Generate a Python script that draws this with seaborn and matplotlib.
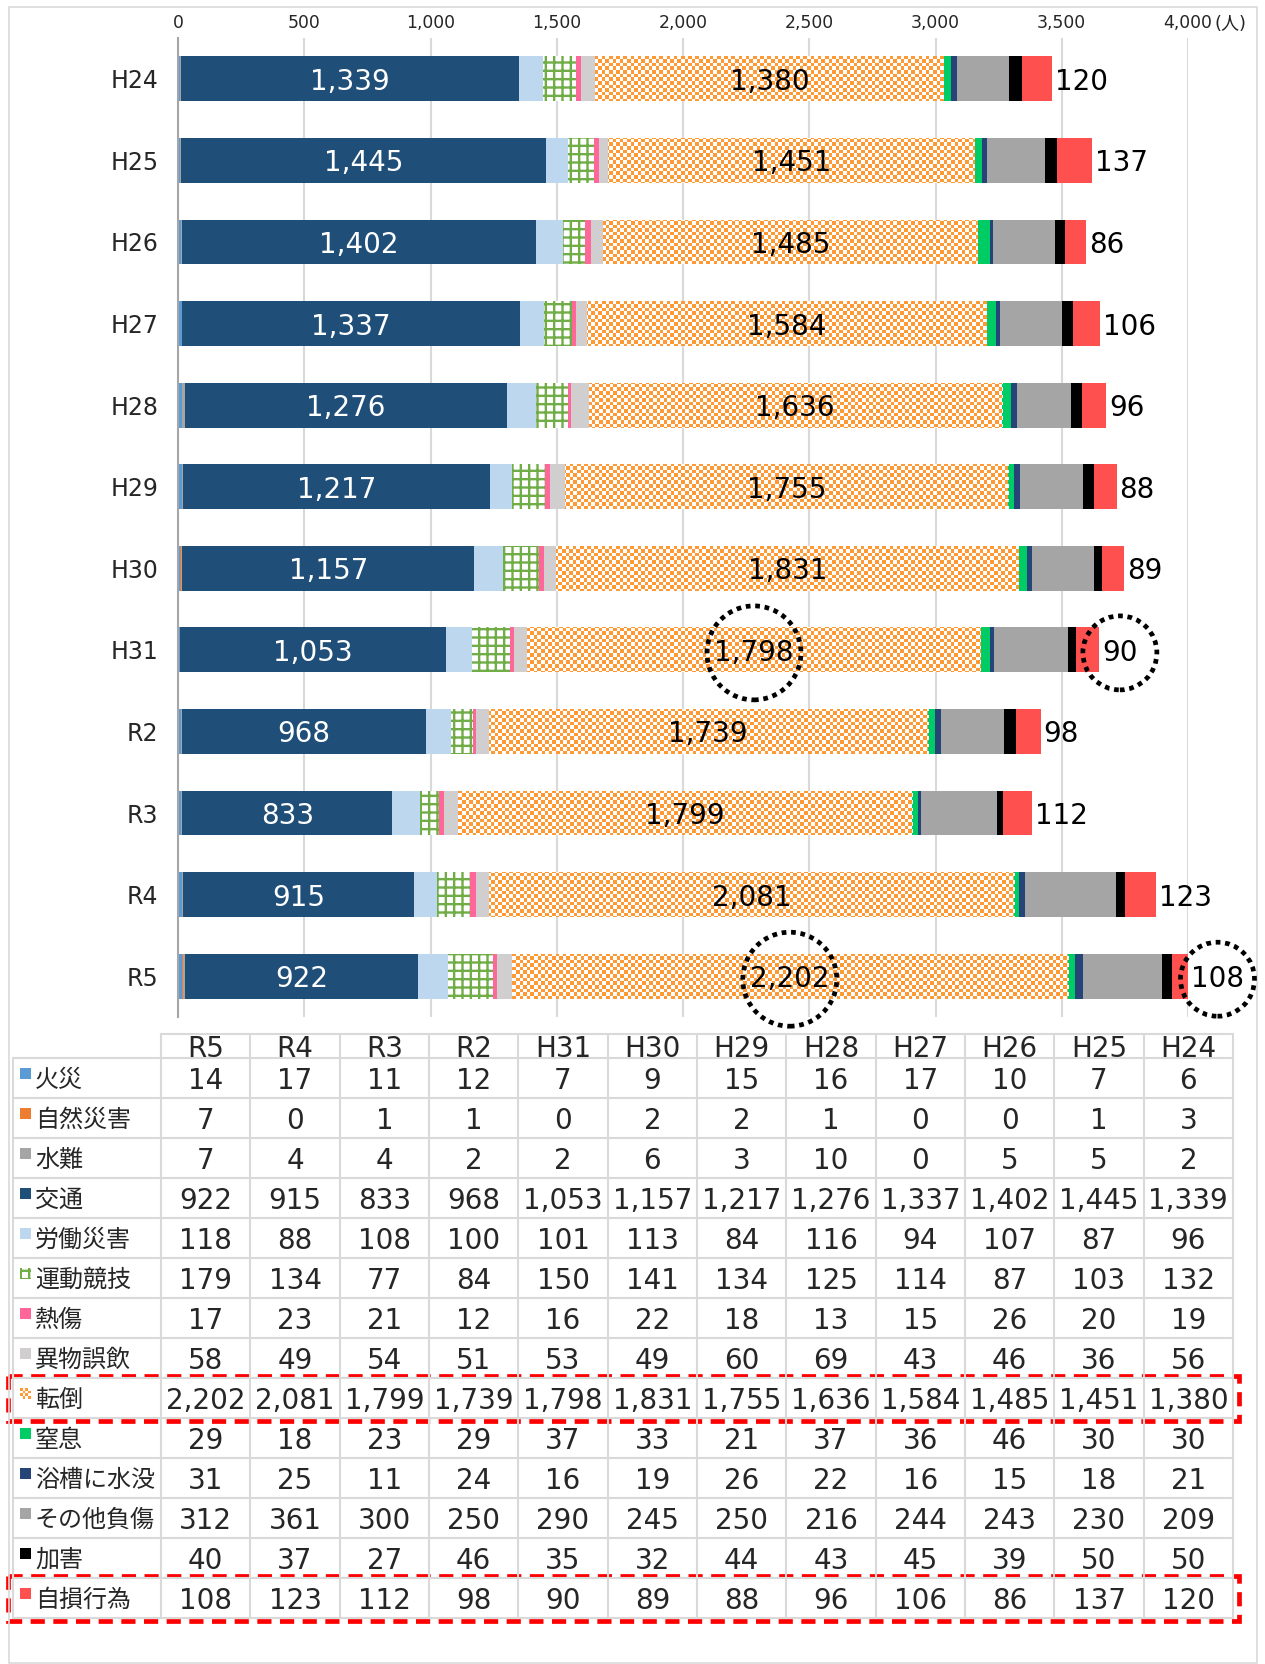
import numpy as np
import pandas as pd
import matplotlib
matplotlib.use('Agg')
import matplotlib.pyplot as plt
import seaborn as sns
from matplotlib.patches import Rectangle, Circle
from matplotlib.transforms import IdentityTransform
from matplotlib.ticker import FuncFormatter, MultipleLocator

# ---------------- data ----------------
years = ['H24', 'H25', 'H26', 'H27', 'H28', 'H29', 'H30', 'H31', 'R2', 'R3', 'R4', 'R5']
categories = ['火災', '自然災害', '水難', '交通', '労働災害', '運動競技', '熱傷',
              '異物誤飲', '転倒', '窒息', '浴槽に水没', 'その他負傷', '加害', '自損行為']

fire        = [6, 7, 10, 17, 16, 15, 9, 7, 12, 11, 17, 14]
nature      = [3, 1, 0, 0, 1, 2, 2, 0, 1, 1, 0, 7]
water       = [2, 5, 5, 0, 10, 3, 6, 2, 2, 4, 4, 7]
traffic     = [1339, 1445, 1402, 1337, 1276, 1217, 1157, 1053, 968, 833, 915, 922]
labor       = [96, 87, 107, 94, 116, 84, 113, 101, 100, 108, 88, 118]
sports      = [132, 103, 87, 114, 125, 134, 141, 150, 84, 77, 134, 179]
burn        = [19, 20, 26, 15, 13, 18, 22, 16, 12, 21, 23, 17]
swallow     = [56, 36, 46, 43, 69, 60, 49, 53, 51, 54, 49, 58]
fall        = [1380, 1451, 1485, 1584, 1636, 1755, 1831, 1798, 1739, 1799, 2081, 2202]
choke       = [30, 30, 46, 36, 37, 21, 33, 37, 29, 23, 18, 29]
bathtub     = [21, 18, 15, 16, 22, 26, 19, 16, 24, 11, 25, 31]
other_inj   = [209, 230, 243, 244, 216, 250, 245, 290, 250, 300, 361, 312]
assault     = [50, 50, 39, 45, 43, 44, 32, 35, 46, 27, 37, 40]
selfharm    = [120, 137, 86, 106, 96, 88, 89, 90, 98, 112, 123, 108]

series = dict(zip(categories, [fire, nature, water, traffic, labor, sports, burn,
                               swallow, fall, choke, bathtub, other_inj, assault, selfharm]))

colors = {'火災': '#5B9BD5', '自然災害': '#ED7D31', '水難': '#A5A5A5', '交通': '#1F4E79',
          '労働災害': '#BDD7EE', '運動競技': '#70AD47', '熱傷': '#FF6699', '異物誤飲': '#D0CECE',
          '転倒': '#FF9933', '窒息': '#00CC66', '浴槽に水没': '#264478', 'その他負傷': '#A5A5A5',
          '加害': '#000000', '自損行為': '#FF5050'}

# ---------------- style ----------------
sns.set_style('white')
plt.rcParams['font.family'] = ['DejaVu Sans', 'Noto Sans CJK JP']
plt.rcParams['hatch.linewidth'] = 1.7

W, H = 1265, 1664
fig = plt.figure(figsize=(W / 100, H / 100), dpi=100)

bg = fig.add_axes([0, 0, 1, 1])
bg.set_xlim(0, W)
bg.set_ylim(H, 0)
bg.axis('off')

AX_L, AX_R, AX_T, AX_B = 178, 1188, 38, 1017
ax = fig.add_axes([AX_L / W, 1 - AX_B / H, (AX_R - AX_L) / W, (AX_B - AX_T) / H])

XMAX = 4000
NUM_FS = 20
left = np.zeros(len(years))
lefts = {}
containers = {}
for cat in categories:
    vals = np.array(series[cat], dtype=float)
    df = pd.DataFrame({'year': years, 'count': vals})
    if cat == '運動競技':
        kw = dict(color='white', facecolor='white', edgecolor=colors[cat], hatch='++', linewidth=0)
    else:
        kw = dict(color=colors[cat], linewidth=0)
    sns.barplot(data=df, x='count', y='year', order=years, orient='h', errorbar=None,
                saturation=1, width=0.55, left=left.copy(), ax=ax, **kw)
    containers[cat] = ax.containers[-1]
    lefts[cat] = left.copy()
    left = left + vals

# checker texture for 転倒
CELL = 3.6
ny = int(round((AX_B - AX_T) / CELL))
nx = int(round((AX_R - AX_L) / CELL))
yy, xx = np.mgrid[0:ny, 0:nx]
rgba = np.zeros((ny, nx, 4))
rgba[(yy + xx) % 2 == 0] = [1, 1, 1, 1]
for patch in containers['転倒'].patches:
    im = ax.imshow(rgba, extent=(0, XMAX, len(years) - 0.5, -0.5), aspect='auto',
                   interpolation='nearest', zorder=1.5)
    im.set_clip_path(patch)

ax.set_xlim(0, XMAX)
ax.set_ylim(len(years) - 0.5, -0.5)
ax.set_xlabel('')
ax.set_ylabel('')
for s in ['top', 'right', 'bottom']:
    ax.spines[s].set_visible(False)
ax.spines['left'].set_color('#A6A6A6')
ax.spines['left'].set_linewidth(1.5)
ax.xaxis.set_major_locator(MultipleLocator(500))
ax.xaxis.set_major_formatter(FuncFormatter(lambda v, p: f'{int(v):,}'))
ax.xaxis.grid(True, color='#D9D9D9', linewidth=1.5)
ax.yaxis.grid(False)
ax.set_axisbelow(True)
ax.tick_params(axis='x', top=True, labeltop=True, bottom=False, labelbottom=False,
               length=0, pad=4.5, labelsize=12.4)
ax.tick_params(axis='y', length=0, pad=14, labelsize=17)

# value labels
fall_texts, self_texts = {}, {}
for i in range(len(years)):
    tv = series['交通'][i]
    ax.text(lefts['交通'][i] + tv / 2, i, f'{tv:,}', ha='center', va='center_baseline',
            color='white', fontsize=NUM_FS, zorder=5)
    fv = series['転倒'][i]
    fall_texts[i] = ax.text(lefts['転倒'][i] + fv / 2, i, f'{fv:,}', ha='center',
                            va='center_baseline', color='black', fontsize=NUM_FS, zorder=5)
    sv = series['自損行為'][i]
    end = min(lefts['自損行為'][i] + sv, XMAX)
    self_texts[i] = ax.annotate(f'{sv:,}', (end, i), xytext=(3, 0), textcoords='offset pixels',
                                ha='left', va='center_baseline', fontsize=NUM_FS, color='black',
                                annotation_clip=False, zorder=5)

bg.text(1214, 24, '(人)', ha='left', va='center', fontsize=13)

# ---------------- table ----------------
TL, TC0, TR = 13, 161, 1233
colw = (TR - TC0) / 12
HT, HB, RH = 1034, 1058, 40
nrows = len(categories)
gc, glw = '#D9D9D9', 1.5
tab_years = years[::-1]
bottom = HB + nrows * RH
bg.plot([TC0, TR], [HT, HT], color=gc, lw=glw)
for r in range(nrows + 1):
    y = HB + r * RH
    bg.plot([TL, TR], [y, y], color=gc, lw=glw)
bg.plot([TL, TL], [HB, bottom], color=gc, lw=glw)
for c in range(13):
    x = TC0 + c * colw
    bg.plot([x, x], [HT, bottom], color=gc, lw=glw)

for c, yr in enumerate(tab_years):
    bg.text(TC0 + (c + 0.5) * colw, HB - 1, yr, ha='center', va='baseline', fontsize=NUM_FS)

small = np.zeros((4, 4, 4))
for a in range(4):
    for b in range(4):
        small[a, b] = [1, 0.6, 0.2, 1] if (a + b) % 2 == 0 else [1, 1, 1, 1]

for r, cat in enumerate(categories):
    top = HB + r * RH
    if cat == '運動競技':
        bg.add_patch(Rectangle((20, top + 10), 11, 11, facecolor='white',
                               edgecolor=colors[cat], hatch='++', lw=0))
    elif cat == '転倒':
        bg.imshow(small, extent=(20, 31, top + 21, top + 10), aspect='auto',
                  interpolation='nearest')
    else:
        bg.add_patch(Rectangle((20, top + 10), 11, 11, color=colors[cat], lw=0))
    bg.text(35, top + 29, cat, ha='left', va='baseline', fontsize=17.3)
    vals = series[cat][::-1]
    for c, v in enumerate(vals):
        bg.text(TC0 + (c + 0.5) * colw, top + 31, f'{v:,}', ha='center', va='baseline',
                fontsize=NUM_FS)
bg.set_xlim(0, W)
bg.set_ylim(H, 0)

# red dashed highlight boxes
for cat in ['転倒', '自損行為']:
    r = categories.index(cat)
    top = HB + r * RH
    bg.add_patch(Rectangle((8, top - 2), 1239 - 8, RH + 5, fill=False, edgecolor='#FF0000',
                           lw=3.4, linestyle=(0, (3.0, 1.8))))

# outer frame
bg.add_patch(Rectangle((9, 7), 1257 - 9, H - 8, fill=False, edgecolor='#D9D9D9', lw=1.2))

# dotted circles around highlighted labels
fig.canvas.draw()
renderer = fig.canvas.get_renderer()
for i in [years.index('H31'), years.index('R5')]:
    for txt, rad in [(fall_texts[i], 47), (self_texts[i], 37)]:
        bb = txt.get_window_extent(renderer)
        cx, cy = (bb.x0 + bb.x1) / 2, (bb.y0 + bb.y1) / 2
        fig.add_artist(Circle((cx, cy), rad, fill=False, edgecolor='black', lw=3.4,
                              linestyle=(0, (1, 1)), transform=IdentityTransform()))

fig.savefig('out.png', dpi=100)
